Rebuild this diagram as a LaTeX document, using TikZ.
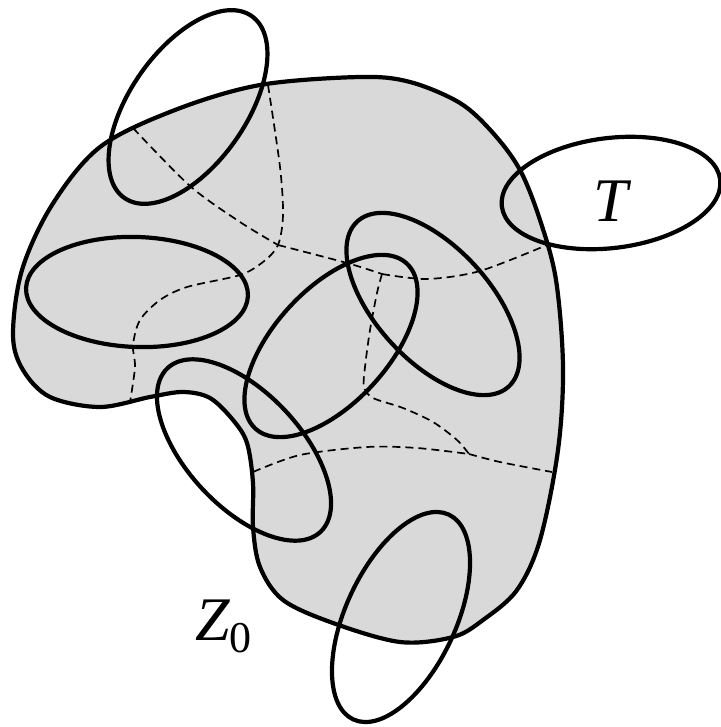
\documentclass[tikz,border=0pt]{standalone}
\usepackage{fontspec}
\setmainfont{Liberation Serif}
\usetikzlibrary{positioning}

\begin{document}
\begin{tikzpicture}[x=0.5pt, y=-0.5pt,
  ring/.style={line width=2.1pt},
  cut/.style={line width=0.85pt, dash pattern=on 4pt off 2.5pt},
  lbl/.style={font=\fontsize{31}{37}\selectfont, inner sep=0pt}]
  \useasboundingbox (0,0) rectangle (721,727);

  % Region Z0
  \filldraw[ring, fill=black!15] plot[smooth cycle, tension=0.55] coordinates {
    (360,77) (410,82) (460,103) (493,133) (520,170) (540,220) (556,280)
    (563,367) (558,450) (540,540) (517,590) (483,620) (453,637) (400,642)
    (333,623) (283,600) (260,567) (253,527) (253,483) (247,443) (233,420)
    (210,398) (183,392) (150,397) (100,407) (50,397) (23,370) (13,335)
    (22,270) (52,205) (100,147) (175,110) (260,85)};

  % Junctions
  \coordinate (j1) at (278,245);
  \coordinate (j2) at (382,274);
  \coordinate (j3) at (469,454);

  % Cuts
  \draw[cut] plot[smooth] coordinates {(133,128) (190,186) (240,222) (j1)};
  \draw[cut] plot[smooth] coordinates {(j1) (347,263) (j2)};
  \draw[cut] plot[smooth] coordinates {(j2) (427,279) (480,271) (547,245)};
  \draw[cut] plot[smooth] coordinates {(268,85) (280,167) (283,215) (j1)
    (263,262) (240,275) (187,287) (160,300) (140,320) (133,345) (135,367) (130,402)};
  \draw[cut] plot[smooth] coordinates {(j2) (377,293) (370,330) (365,367)
    (364,387) (373,398) (403,408) (433,422) (457,440) (j3)};
  \draw[cut] plot[smooth] coordinates {(253,472) (300,455) (367,447) (417,448) (j3)};
  \draw[cut] plot[smooth] coordinates {(j3) (500,462) (552,472)};

  % Ellipses
  \draw[ring, rotate around={55:(188,107)}] (188,107) ellipse [x radius=111, y radius=58];
  \draw[ring, rotate around={-2:(137,292)}] (137,292) ellipse [x radius=111, y radius=55];
  \draw[ring, rotate around={7:(611,193)}] (611,193) ellipse [x radius=110, y radius=55];
  \draw[ring, rotate around={-47.5:(433,304)}] (433,304) ellipse [x radius=112, y radius=57];
  \draw[ring, rotate around={47.5:(331,346)}] (331,346) ellipse [x radius=112, y radius=57];
  \draw[ring, rotate around={-47:(244,450)}] (244,450) ellipse [x radius=112, y radius=57];
  \draw[ring, rotate around={65:(401,617)}] (401,617) ellipse [x radius=113, y radius=55];

  % Labels
  \node[lbl, anchor=base west] (t) at (593,221) {\itshape T};
  \node[lbl, anchor=base west] (z) at (195,640)
    {\itshape Z\upshape\raisebox{-6pt}{\fontsize{22}{26}\selectfont 0}};
\end{tikzpicture}
\end{document}
